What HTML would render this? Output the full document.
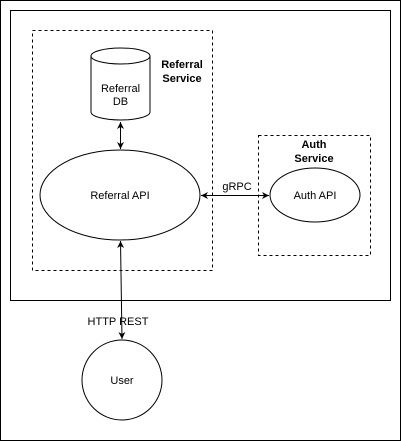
<!DOCTYPE html>
<html><head><meta charset="utf-8"><style>
html,body{margin:0;padding:0;background:#fff}
svg{display:block}
text{font-family:"Liberation Sans",sans-serif;font-size:11px;fill:#000}
</style></head><body>
<svg width="401" height="441" viewBox="0 0 401 441" xmlns="http://www.w3.org/2000/svg">
<defs>
<marker id="a" markerWidth="8" markerHeight="8" refX="7" refY="4" orient="auto-start-reverse" markerUnits="userSpaceOnUse">
<path d="M0,0.5 L7,4 L0,7.5 L2,4 Z" fill="#000"/>
</marker>
</defs>
<rect x="0.5" y="0.5" width="400" height="440" fill="#fff" stroke="#000"/>
<rect x="10.5" y="10.5" width="380" height="290" fill="#fff" stroke="#000"/>
<rect x="32.5" y="30.5" width="180" height="240" fill="none" stroke="#000" stroke-dasharray="3 3"/>
<rect x="258.5" y="135.5" width="112" height="120" fill="none" stroke="#000" stroke-dasharray="3 3"/>
<!-- cylinder -->
<path d="M91,56 A29.5,8 0 0 1 150,56 L150,112 A29.5,8 0 0 1 91,112 Z" fill="#fff" stroke="#000"/>
<path d="M91,56 A29.5,8 0 0 0 150,56" fill="none" stroke="#000"/>
<text x="120.5" y="92" text-anchor="middle">Referral</text>
<text x="120.5" y="105" text-anchor="middle">DB</text>
<text x="182" y="68" text-anchor="middle" font-weight="bold">Referral</text>
<text x="182" y="82" text-anchor="middle" font-weight="bold">Service</text>
<text x="314" y="148" text-anchor="middle" font-weight="bold">Auth</text>
<text x="314" y="162" text-anchor="middle" font-weight="bold">Service</text>
<ellipse cx="120" cy="195" rx="80" ry="45" fill="#fff" stroke="#000"/>
<text x="120" y="199" text-anchor="middle">Referral API</text>
<ellipse cx="315" cy="195" rx="45" ry="27" fill="#fff" stroke="#000"/>
<text x="315" y="199" text-anchor="middle">Auth API</text>
<circle cx="122" cy="380" r="40" fill="#fff" stroke="#000"/>
<text x="122" y="384" text-anchor="middle">User</text>
<line x1="120.5" y1="122" x2="120.5" y2="149" stroke="#000" marker-start="url(#a)" marker-end="url(#a)"/>
<line x1="201" y1="195.5" x2="269" y2="195.5" stroke="#000" marker-start="url(#a)" marker-end="url(#a)"/>
<line x1="120.5" y1="241" x2="122" y2="339" stroke="#000" marker-start="url(#a)" marker-end="url(#a)"/>
<rect x="222" y="179" width="30" height="13" fill="#fff"/>
<text x="237" y="190" text-anchor="middle">gRPC</text>
<text x="118" y="325" text-anchor="middle">HTTP REST</text>
</svg>
</body></html>
